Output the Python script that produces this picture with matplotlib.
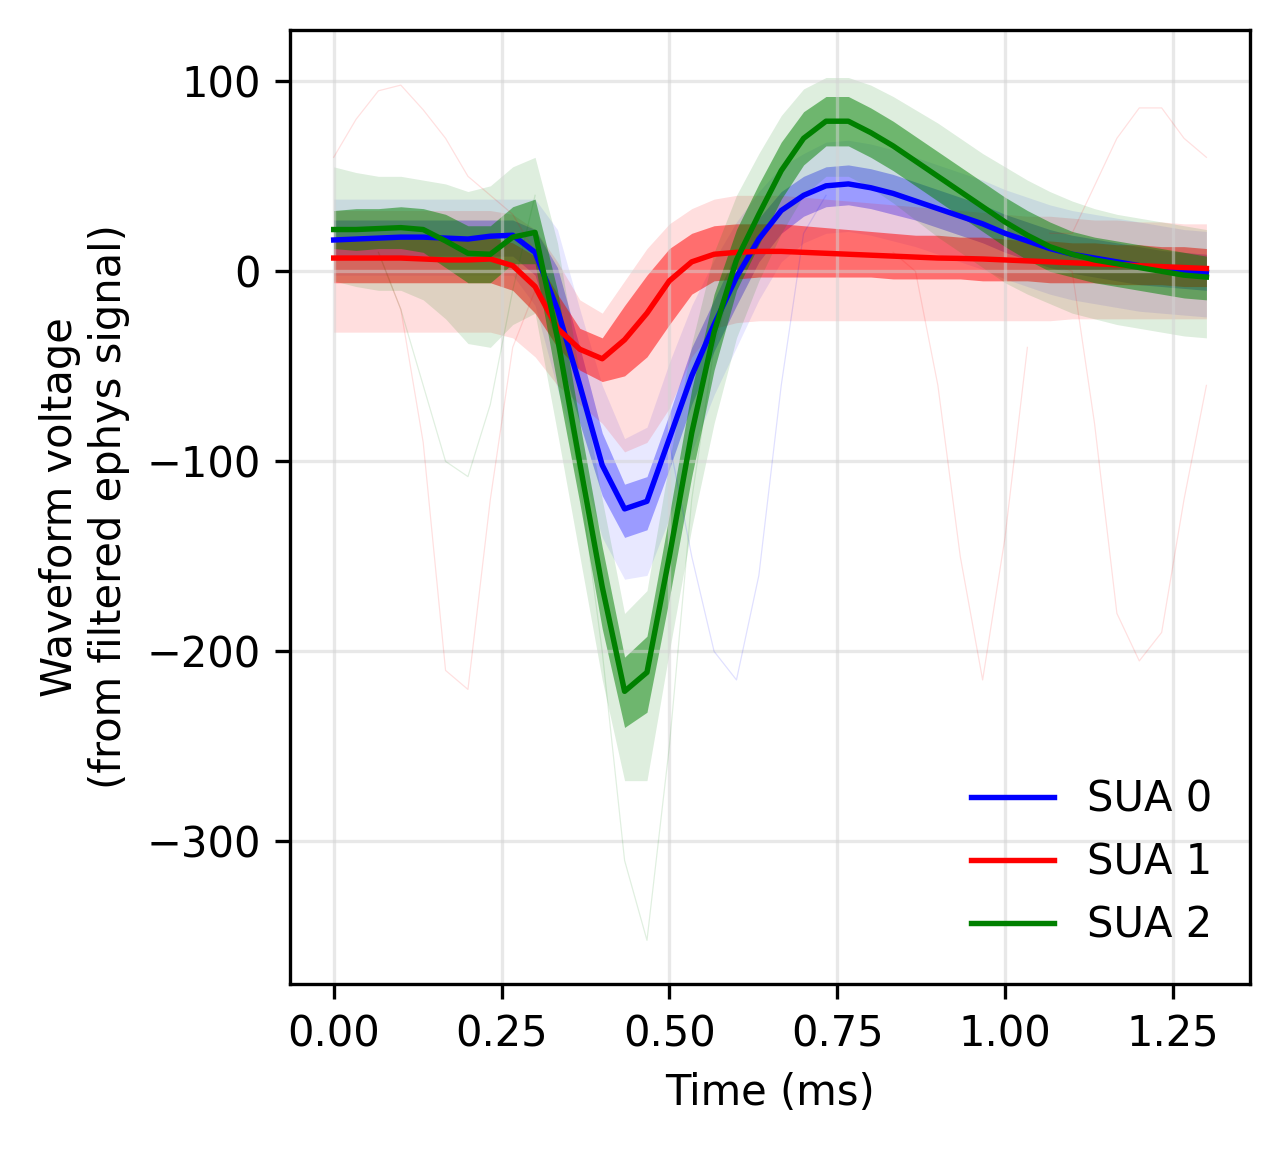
import numpy as np
import matplotlib
matplotlib.use("Agg")
import matplotlib.pyplot as plt

# 40 samples at 30 kHz -> time in ms
t = np.arange(40) / 30.0

units = ["SUA 0", "SUA 1", "SUA 2"]
colors = ["blue", "red", "green"]

# mean waveforms
mean_0 = [16.5, 17, 17.5, 18, 18, 17.5, 17, 18.5, 19, 10,
          -20, -60, -102, -125, -121, -88, -55, -28, -3, 17,
          32, 40, 45, 46, 44, 41, 37, 33, 29, 25,
          20, 16, 12, 9, 7, 5, 3, 1.5, 0.5, -0.5]
mean_1 = [7, 7, 7, 7, 6.5, 6, 6, 6.5, 3, -8,
          -30, -41, -46, -36, -22, -5, 5, 9, 10, 10.5,
          10.5, 10, 9.5, 9, 8.5, 8, 7.5, 7, 6.8, 6.5,
          6, 5.5, 5, 4.5, 4, 3.5, 3, 2.5, 2, 1.5]
mean_2 = [22, 22, 22.5, 23, 22, 16, 9.5, 9, 18, 20.5,
          -35, -101, -166, -221, -211, -150, -85, -32, 6, 30,
          53, 70, 79, 79, 73, 66, 58, 50, 42, 34,
          26, 19, 13, 9, 6, 4, 2, 0, -2, -3]

# dense core of the individual spikes (upper / lower edge)
core_hi_0 = [27, 27, 27, 27, 27, 27, 27, 27, 27, 22,
             2, -40, -85, -112, -108, -75, -40, -15, 10, 28,
             42, 50, 55, 56, 54, 51, 47, 43, 39, 35,
             30, 26, 22, 19, 17, 15, 13, 11, 10, 9]
core_lo_0 = [8, 8, 8, 8, 8, 8, 8, 8, 8, -2,
             -40, -80, -118, -140, -136, -104, -70, -42, -18, 5,
             20, 29, 34, 35, 33, 30, 27, 23, 19, 15,
             10, 6, 2, -1, -3, -5, -7, -8, -9, -10]
core_hi_1 = [18, 18, 18, 18, 18, 18, 18, 18, 15, 8,
             -12, -30, -35, -18, -2, 12, 20, 24, 25, 25,
             25, 24, 23, 22, 21, 20, 19, 19, 18, 18,
             17, 16, 16, 15, 15, 14, 14, 13, 13, 12]
core_lo_1 = [-6, -6, -6, -6, -6, -6, -6, -6, -10, -22,
             -40, -52, -58, -55, -45, -28, -12, -5, -4, -3,
             -3, -3, -3, -3, -3, -4, -4, -4, -4, -5,
             -5, -5, -6, -6, -6, -7, -7, -7, -8, -8]
core_hi_2 = [32, 33, 33, 34, 33, 30, 24, 24, 34, 38,
             -10, -80, -145, -203, -192, -128, -62, -12, 22, 46,
             68, 84, 92, 92, 86, 79, 71, 63, 55, 47,
             39, 32, 26, 21, 18, 16, 14, 12, 10, 8]
core_lo_2 = [12, 11, 12, 12, 10, 2, -6, -6, 4, 4,
             -60, -122, -188, -240, -232, -172, -108, -52, -10, 14,
             38, 56, 66, 66, 60, 53, 45, 37, 29, 21,
             13, 6, 0, -3, -6, -8, -10, -12, -14, -15]

# outer spread of the individual spikes
outer_hi_0 = [38, 38, 38, 38, 38, 38, 38, 38, 38, 38,
              22, -20, -60, -88, -82, -48, -18, 6, 26, 42,
              55, 62, 68, 69, 67, 64, 60, 56, 52, 48,
              43, 39, 35, 32, 30, 28, 26, 24, 22, 21]
outer_lo_0 = [-2, -2, -2, -2, -2, -2, -2, -2, -2, -18,
              -62, -100, -140, -162, -160, -130, -95, -65, -40, -15,
              5, 15, 20, 21, 19, 16, 13, 9, 5, 1,
              -4, -8, -12, -15, -17, -19, -21, -22, -23, -24]
outer_hi_1 = [32, 32, 32, 32, 32, 32, 32, 32, 30, 22,
              5, -15, -22, -5, 12, 25, 33, 38, 40, 40,
              40, 39, 38, 37, 36, 35, 34, 33, 32, 31,
              30, 29, 29, 28, 27, 27, 26, 26, 25, 25]
outer_lo_1 = [-32, -32, -32, -32, -32, -32, -32, -32, -35, -45,
              -60, -70, -80, -95, -90, -72, -45, -30, -27, -26,
              -26, -26, -26, -26, -26, -26, -26, -26, -26, -26,
              -26, -26, -26, -25, -25, -25, -25, -25, -25, -25]
outer_hi_2 = [55, 52, 50, 50, 48, 46, 42, 45, 55, 60,
              15, -55, -120, -180, -168, -100, -38, 10, 40, 62,
              82, 96, 102, 102, 98, 92, 85, 78, 70, 62,
              55, 48, 42, 37, 33, 30, 28, 26, 24, 22]
outer_lo_2 = [-5, -8, -10, -10, -15, -25, -38, -40, -28, -22,
              -85, -150, -215, -268, -268, -200, -135, -80, -35, -5,
              20, 40, 50, 50, 44, 36, 27, 18, 10, 2,
              -6, -12, -17, -22, -25, -28, -30, -32, -34, -35]

# a few stray single spikes (sample index, value)
stray_0 = [(list(range(14, 23)), [-120, -90, -150, -200, -215, -160, -60, 20, 40])]
stray_1 = [(list(range(2, 10)), [10, -20, -90, -210, -220, -120, -40, -10]),
           (list(range(0, 10)), [60, 80, 95, 98, 85, 70, 50, 40, 30, 10]),
           (list(range(25, 32)), [10, 0, -60, -150, -215, -140, -40]),
           (list(range(32, 40)), [5, 0, -80, -180, -205, -190, -120, -60]),
           (list(range(32, 40)), [20, 20, 45, 70, 86, 86, 70, 60])]
stray_2 = [(list(range(9, 19)), [20, -40, -110, -200, -310, -352, -250, -120, -40, 5]),
           (list(range(2, 10)), [10, -20, -60, -100, -108, -70, -10, 40])]

means = [mean_0, mean_1, mean_2]
cores = [(core_lo_0, core_hi_0), (core_lo_1, core_hi_1), (core_lo_2, core_hi_2)]
outers = [(outer_lo_0, outer_hi_0), (outer_lo_1, outer_hi_1), (outer_lo_2, outer_hi_2)]
strays = [stray_0, stray_1, stray_2]
core_alpha = [0.33, 0.5, 0.5]
outer_alpha = [0.09, 0.13, 0.13]

fig, ax = plt.subplots(figsize=(1280 / 300, 1149 / 300), dpi=300)
fig.subplots_adjust(left=0.2266, right=0.9766, top=0.9739, bottom=0.1436)

for k in range(3):
    c = colors[k]
    for idx, vals in strays[k]:
        ax.plot(t[idx], vals, color=c, lw=0.3, alpha=0.12)
    ax.fill_between(t, outers[k][0], outers[k][1], color=c, alpha=outer_alpha[k], lw=0)
    ax.fill_between(t, cores[k][0], cores[k][1], color=c, alpha=core_alpha[k], lw=0)

for k in range(3):
    ax.plot(t, means[k], color=colors[k], lw=1.3, label=units[k])

ax.set_xlim(-0.065, 1.365)
ax.set_ylim(-375, 127)
ax.grid(True, color="lightgray", alpha=0.5, lw=0.8)
ax.set_xlabel("Time (ms)", fontsize=10)
ax.set_ylabel("Waveform voltage\n(from filtered ephys signal)", fontsize=10)
ax.tick_params(labelsize=10)
ax.legend(loc="lower right", frameon=False, fontsize=10)

fig.savefig("out.png", dpi=300)
